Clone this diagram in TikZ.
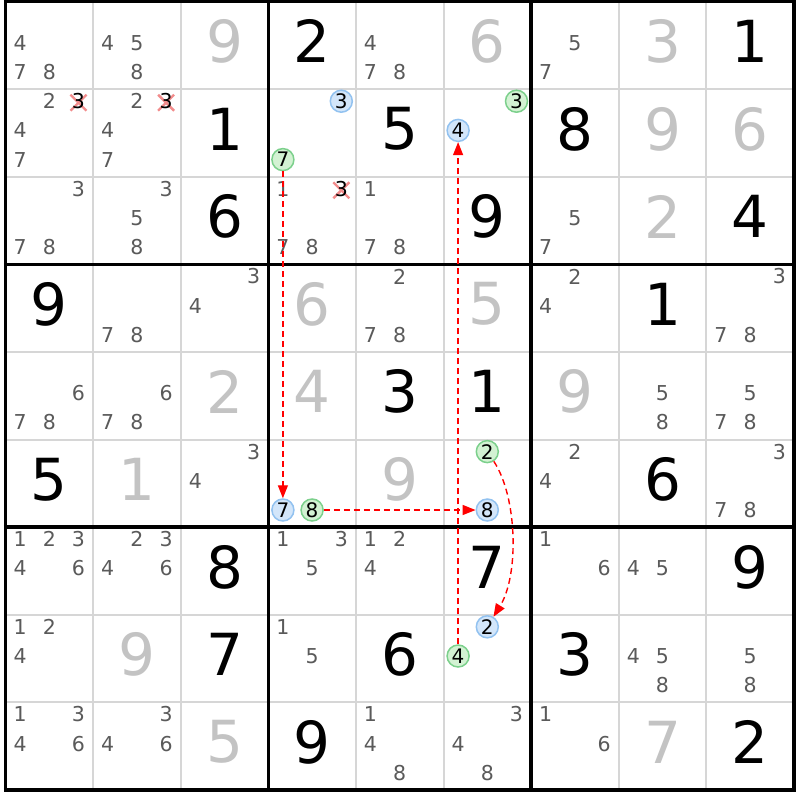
\documentclass[tikz,border=0pt]{standalone}
\usepackage{fontspec}
\setmainfont{DejaVu Sans}
\usetikzlibrary{arrows.meta}
\definecolor{candgray}{HTML}{5A5A5A}
\definecolor{givengray}{HTML}{C3C3C3}
\definecolor{gridgray}{HTML}{D6D6D6}
\definecolor{bluefill}{HTML}{D3E6FA}
\definecolor{blueline}{HTML}{92C2F0}
\definecolor{greenfill}{HTML}{D3F2D3}
\definecolor{greenline}{HTML}{7CD08C}
\definecolor{crosscol}{HTML}{F28C8C}
\tikzset{
  cand/.style={text=candgray, font=\fontsize{20.5}{20.5}\selectfont, inner sep=0pt},
  candblack/.style={text=black, font=\fontsize{20.5}{20.5}\selectfont, inner sep=0pt},
  bigblack/.style={text=black, font=\fontsize{58}{58}\selectfont, inner sep=0pt},
  biggray/.style={text=givengray, font=\fontsize{58}{58}\selectfont, inner sep=0pt},
  markbase/.style={circle, minimum size=22pt, inner sep=0pt, line width=1.5pt, text=black, font=\fontsize{20}{20}\selectfont},
  bluemark/.style={markbase, draw=blueline, fill=bluefill},
  greenmark/.style={markbase, draw=greenline, fill=greenfill},
  gridthin/.style={draw=gridgray, line width=2pt},
  gridthick/.style={draw=black, line width=3.5pt},
  crossx/.style={draw=crosscol, line width=2.4pt},
  chain/.style={draw=red, line width=1.4pt, dash pattern=on 6pt off 4pt, -{Triangle[length=13pt,width=10pt]}},
}
% cell geometry (px): origin (5.5,1.5), cell 87.6
\newcommand\CandPos[3]{% row col digit -> \px \py
  \pgfmathtruncatemacro\kk{mod(#3-1,3)}%
  \pgfmathtruncatemacro\mm{div(#3-1,3)}%
  \pgfmathsetmacro\px{5.5+(#2-1)*87.6+14.6*(2*\kk+1)}%
  \pgfmathsetmacro\py{1.5+(#1-1)*87.6+14.6*(2*\mm+1)-2.5}%
}
\newcommand\Cands[3]{% row col list
  \foreach \d in {#3}{%
    \CandPos{#1}{#2}{\d}%
    \node[cand] (n#1#2\d) at (\px,\py) {\d};
  }%
}
\newcommand\Giv[4]{% row col digit style
  \node[#4] (g#1#2) at ({5.5+(#2-0.5)*87.6},{1.5+(#1-0.5)*87.6-4}) {#3};
}
\newcommand\Mark[4]{% row col digit style
  \CandPos{#1}{#2}{#3}%
  \node[#4] (m#1#2#3) at (\px,\py) {#3};
}
\newcommand\Crossed[3]{% row col digit
  \CandPos{#1}{#2}{#3}%
  \coordinate (cx#1#2#3) at (\px,{\py+1.5});
  \draw[crossx] ([shift={(-8,-8)}]cx#1#2#3) -- ([shift={(8,8)}]cx#1#2#3);
  \draw[crossx] ([shift={(-8,8)}]cx#1#2#3) -- ([shift={(8,-8)}]cx#1#2#3);
  \node[candblack] (x#1#2#3) at (\px,\py) {#3};
}
\begin{document}
\begin{tikzpicture}[x=1pt,y=-1pt]
\useasboundingbox (0,0) rectangle (800,800);
\fill[white] (0,0) rectangle (800,800);
% thin grid
\foreach \i in {1,2,4,5,7,8}{
  \draw[gridthin] ({5.5+\i*87.6},1.5) -- ({5.5+\i*87.6},789.9);
  \draw[gridthin] (5.5,{1.5+\i*87.6}) -- (793.9,{1.5+\i*87.6});
}
% thick grid
\foreach \i in {0,3,6,9}{
  \draw[gridthick] ({5.5+\i*87.6},-0.25) -- ({5.5+\i*87.6},791.65);
  \draw[gridthick] (3.75,{1.5+\i*87.6}) -- (795.65,{1.5+\i*87.6});
}
% row 1
\Cands{1}{1}{4,7,8}\Cands{1}{2}{4,5,8}\Giv{1}{3}{9}{biggray}
\Giv{1}{4}{2}{bigblack}\Cands{1}{5}{4,7,8}\Giv{1}{6}{6}{biggray}
\Cands{1}{7}{5,7}\Giv{1}{8}{3}{biggray}\Giv{1}{9}{1}{bigblack}
% row 2
\Cands{2}{1}{2,4,7}\Crossed{2}{1}{3}
\Cands{2}{2}{2,4,7}\Crossed{2}{2}{3}
\Giv{2}{3}{1}{bigblack}
\Mark{2}{4}{3}{bluemark}\Mark{2}{4}{7}{greenmark}
\Giv{2}{5}{5}{bigblack}
\Mark{2}{6}{4}{bluemark}\Mark{2}{6}{3}{greenmark}
\Giv{2}{7}{8}{bigblack}\Giv{2}{8}{9}{biggray}\Giv{2}{9}{6}{biggray}
% row 3
\Cands{3}{1}{3,7,8}\Cands{3}{2}{3,5,8}\Giv{3}{3}{6}{bigblack}
\Cands{3}{4}{1,7,8}\Crossed{3}{4}{3}
\Cands{3}{5}{1,7,8}\Giv{3}{6}{9}{bigblack}
\Cands{3}{7}{5,7}\Giv{3}{8}{2}{biggray}\Giv{3}{9}{4}{bigblack}
% row 4
\Giv{4}{1}{9}{bigblack}\Cands{4}{2}{7,8}\Cands{4}{3}{3,4}
\Giv{4}{4}{6}{biggray}\Cands{4}{5}{2,7,8}\Giv{4}{6}{5}{biggray}
\Cands{4}{7}{2,4}\Giv{4}{8}{1}{bigblack}\Cands{4}{9}{3,7,8}
% row 5
\Cands{5}{1}{6,7,8}\Cands{5}{2}{6,7,8}\Giv{5}{3}{2}{biggray}
\Giv{5}{4}{4}{biggray}\Giv{5}{5}{3}{bigblack}\Giv{5}{6}{1}{bigblack}
\Giv{5}{7}{9}{biggray}\Cands{5}{8}{5,8}\Cands{5}{9}{5,7,8}
% row 6
\Giv{6}{1}{5}{bigblack}\Giv{6}{2}{1}{biggray}\Cands{6}{3}{3,4}
\Mark{6}{4}{7}{bluemark}\Mark{6}{4}{8}{greenmark}
\Giv{6}{5}{9}{biggray}
\Mark{6}{6}{2}{greenmark}\Mark{6}{6}{8}{bluemark}
\Cands{6}{7}{2,4}\Giv{6}{8}{6}{bigblack}\Cands{6}{9}{3,7,8}
% row 7
\Cands{7}{1}{1,2,3,4,6}\Cands{7}{2}{2,3,4,6}\Giv{7}{3}{8}{bigblack}
\Cands{7}{4}{1,3,5}\Cands{7}{5}{1,2,4}\Giv{7}{6}{7}{bigblack}
\Cands{7}{7}{1,6}\Cands{7}{8}{4,5}\Giv{7}{9}{9}{bigblack}
% row 8
\Cands{8}{1}{1,2,4}\Giv{8}{2}{9}{biggray}\Giv{8}{3}{7}{bigblack}
\Cands{8}{4}{1,5}\Giv{8}{5}{6}{bigblack}
\Mark{8}{6}{2}{bluemark}\Mark{8}{6}{4}{greenmark}
\Giv{8}{7}{3}{bigblack}\Cands{8}{8}{4,5,8}\Cands{8}{9}{5,8}
% row 9
\Cands{9}{1}{1,3,4,6}\Cands{9}{2}{3,4,6}\Giv{9}{3}{5}{biggray}
\Giv{9}{4}{9}{bigblack}\Cands{9}{5}{1,4,8}\Cands{9}{6}{3,4,8}
\Cands{9}{7}{1,6}\Giv{9}{8}{7}{biggray}\Giv{9}{9}{2}{bigblack}
% chain
\draw[chain] (m247) -- (m647);
\draw[chain] (m648) -- (m668);
\draw[chain] (m662) .. controls +(30,45) and +(32,-52) .. (m862);
\draw[chain] (m864) -- (m264);
\end{tikzpicture}
\end{document}
